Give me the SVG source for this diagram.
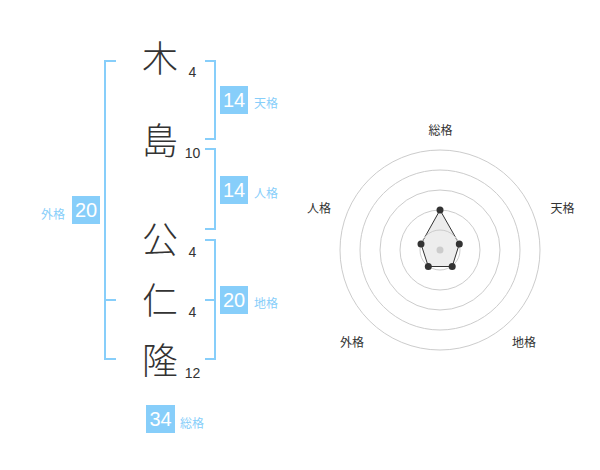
<svg xmlns="http://www.w3.org/2000/svg" width="600" height="470" viewBox="0 0 600 470">
<style>
.big{font-family:"Noto Sans CJK JP","Noto Sans CJK SC",sans-serif;font-size:36px;font-weight:300;fill:#333;text-anchor:middle}
.num{font-family:"Liberation Sans",Arial,sans-serif;font-size:14px;fill:#333;text-anchor:middle}
.br{fill:none;stroke:#87cefa;stroke-width:2}
.box{fill:#87cefa}
.bt{font-family:"Liberation Sans",Arial,sans-serif;font-size:20px;fill:#fff;text-anchor:middle}
.lb{font-family:"Noto Sans CJK JP","Noto Sans CJK SC",sans-serif;font-size:12px;fill:#87cefa}
.rl{font-family:"Noto Sans CJK JP","Noto Sans CJK SC",sans-serif;font-size:12px;fill:#333;text-anchor:middle}
.ring{fill:none;stroke:#ccc;stroke-width:1}
.pt{fill:#333}
</style>
<rect width="600" height="470" fill="#fff"/>
<g id="chars">
<text class="big" x="160" y="72">木</text>
<text class="num" x="192.5" y="77">4</text>
<text class="big" x="160" y="154">島</text>
<text class="num" x="192.5" y="157.5">10</text>
<text class="big" x="160" y="253">公</text>
<text class="num" x="192.5" y="257">4</text>
<text class="big" x="160" y="314">仁</text>
<text class="num" x="192.5" y="317">4</text>
<text class="big" x="160" y="374">隆</text>
<text class="num" x="192.5" y="377.5">12</text>
</g>
<g id="connectors">
<path class="br" d="M116,61 H105 V359 H116 M105,300 H116"/>
<path class="br" d="M205,61 H215 V139 H205"/>
<path class="br" d="M205,149 H215 V229 H205"/>
<path class="br" d="M205,240 H215 V359 H205 M215,300 H205"/>
</g>
<g id="tenkaku">
<rect class="box" x="220" y="86" width="28" height="28"/>
<text class="bt" x="234" y="107">14</text>
<text class="lb" x="254" y="108">天格</text>
</g>
<g id="jinkaku">
<rect class="box" x="220" y="176" width="28" height="28"/>
<text class="bt" x="234" y="197">14</text>
<text class="lb" x="254" y="198">人格</text>
</g>
<g id="chikaku">
<rect class="box" x="220" y="286" width="28" height="28"/>
<text class="bt" x="234" y="307">20</text>
<text class="lb" x="254" y="308">地格</text>
</g>
<g id="gaikaku">
<rect class="box" x="72" y="196" width="28" height="28"/>
<text class="bt" x="86" y="217">20</text>
<text class="lb" x="41" y="219">外格</text>
</g>
<g id="soukaku">
<rect class="box" x="146" y="405" width="29" height="28"/>
<text class="bt" x="160.5" y="426">34</text>
<text class="lb" x="180" y="428">総格</text>
</g>
<g id="radar">
<circle class="ring" cx="440" cy="250" r="100"/>
<circle class="ring" cx="440" cy="250" r="80"/>
<circle class="ring" cx="440" cy="250" r="60"/>
<circle class="ring" cx="440" cy="250" r="40"/>
<polygon points="440,210 459.3,244 452.2,266.5 428.3,266.5 421,244" fill="#e6e6e6" fill-opacity="0.7" stroke="#333" stroke-width="1"/>
<circle class="ring" cx="440" cy="250" r="20"/>
<circle cx="440" cy="250" r="3.5" fill="#ccc"/>
<circle class="pt" cx="440" cy="210" r="3.5"/>
<circle class="pt" cx="459.3" cy="244" r="3.5"/>
<circle class="pt" cx="452.2" cy="266.5" r="3.5"/>
<circle class="pt" cx="428.3" cy="266.5" r="3.5"/>
<circle class="pt" cx="421" cy="244" r="3.5"/>
<text class="rl" x="440.5" y="135">総格</text>
<text class="rl" x="562.5" y="213">天格</text>
<text class="rl" x="524" y="347">地格</text>
<text class="rl" x="352" y="347">外格</text>
<text class="rl" x="319" y="213">人格</text>
</g>
</svg>
